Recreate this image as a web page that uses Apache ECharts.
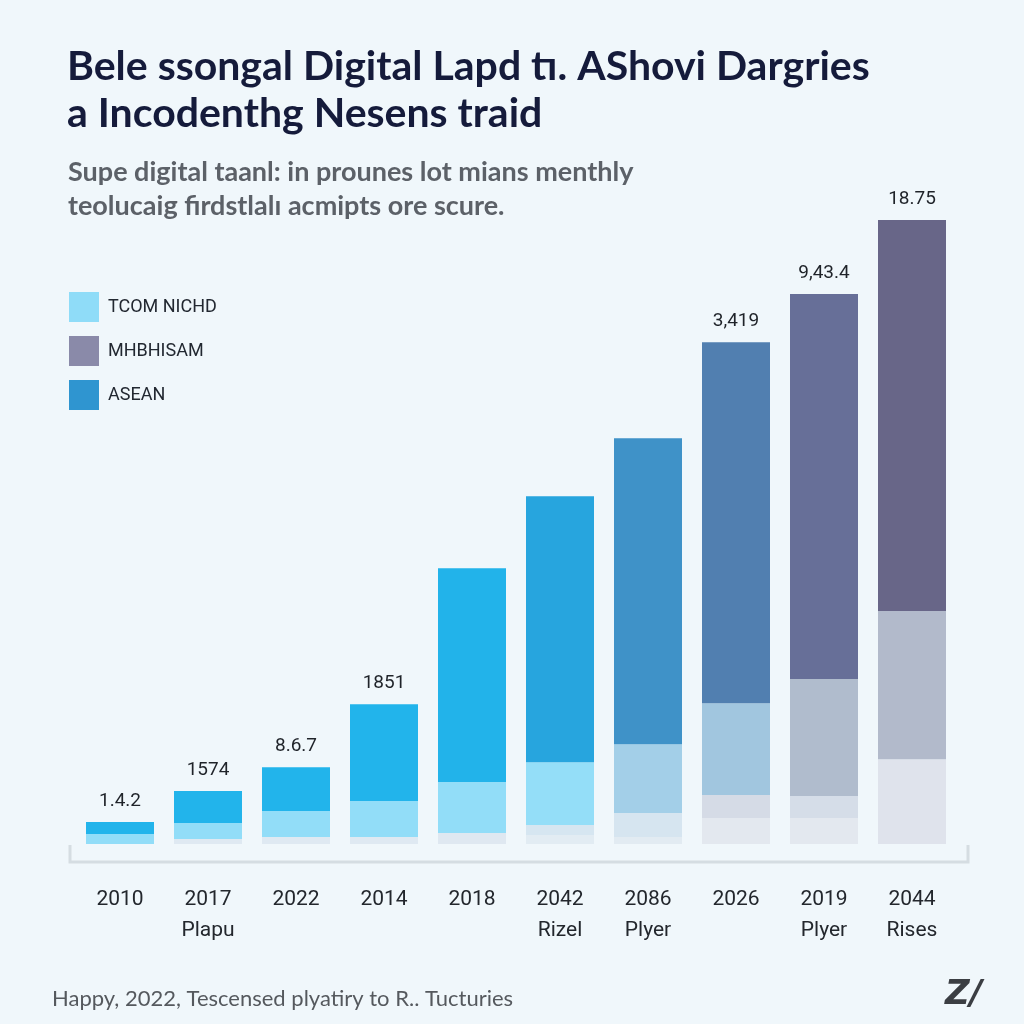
<!DOCTYPE html>
<html>
<head>
<meta charset="utf-8">
<script src="https://cdn.jsdelivr.net/npm/echarts@6/dist/echarts.min.js"></script>
<style>
html,body{margin:0;padding:0;background:#f0f7fb;}
#c{width:1024px;height:1024px;}
</style>
</head>
<body>
<div id="c"></div>
<script>
// ---- data ----
const years = ['2010','2017','2022','2014','2018','2042','2086','2026','2019','2044'];
const subLabels = ['','Plapu','','','','Rizel','Plyer','','Plyer','Rises'];
const topLabels = ['1.4.2','1574','8.6.7','1851','','','','3,419','9,43.4','18.75'];
const baseLow  = [0, 0.15, 0.21, 0.21, 0.33, 0.27, 0.21, 0.78, 0.78, 2.55];
const baseHigh = [0, 0, 0, 0, 0, 0.30, 0.72, 0.69, 0.66, 0];
const tcomNichd = [0.30, 0.48, 0.78, 1.08, 1.53, 1.89, 2.07, 2.76, 3.52, 4.45];
const asean    = [0.36, 0.96, 1.32, 2.91, 6.43, 7.99, 9.19, 10.85, 11.57, 11.75];

// ---- styles ----
const darkColors  = ['#22b4eb','#22b4eb','#22b4eb','#22b4eb','#22b3ea','#27a5de','#3f92c8','#517fb0','#676f98','#686688'];
const midColors   = ['#92ddf8','#92ddf8','#92ddf8','#92ddf8','#92ddf8','#94def8','#a3cfe8','#a1c6df','#b0bccd','#b2bacb'];
const highColors  = ['#dbe8f2','#dbe8f2','#dbe8f2','#dbe8f2','#dbe8f2','#d6e6f1','#d6e5f0','#d5dbe6','#d5dde8','#dfe3ec'];
const lowColors   = ['#e2ecf3','#dfe9f2','#dfe9f2','#dfe9f2','#dfe8f1','#e2ecf3','#e2ebf2','#e3e8ef','#e3e8ef','#dfe3ec'];

function items(vals, cols){ return vals.map((v,i)=>({value:v, itemStyle:{color:cols[i]}})); }

const chart = echarts.init(document.getElementById('c'));
chart.setOption({
  backgroundColor:'#f0f7fb',
  animation:false,
  title:[
    {text:'Bele ssongal Digital Lapd tı. AShovi Dargries\na Incodenthg Nesens traid',
     left:62, top:38,
     textStyle:{fontFamily:'Lato', fontWeight:'bold', fontSize:41, lineHeight:47, color:'#151b3b'}},
    {text:'Supe digital taanl: in prounes lot mians menthly\nteolucaig firdstlalı acmipts ore scure.',
     left:63, top:150,
     textStyle:{fontFamily:'Lato', fontWeight:'bold', fontSize:27, lineHeight:34, color:'#5c6168'}},
    {text:'Happy, 2022, Tescensed plyatiry to R.. Tucturies',
     left:47, top:983,
     textStyle:{fontFamily:'Lato', fontWeight:'normal', fontSize:22, color:'#55595e'}}
  ],
  legend:{
    orient:'vertical', left:64, top:287, icon:'rect',
    itemWidth:30, itemHeight:30, itemGap:14,
    data:['TCOM NICHD','MHBHISAM','ASEAN'],
    textStyle:{fontFamily:'Roboto', fontSize:18, color:'#222831', padding:[0,0,0,4]},
    selectedMode:false
  },
  grid:{left:76, right:68, top:178.4, bottom:162, containLabel:false},
  xAxis:{
    type:'category', data:years,
    axisLine:{show:false}, axisTick:{show:false},
    axisLabel:{
      margin:22, fontFamily:'Roboto', fontSize:21, color:'#23272d', lineHeight:31,
      formatter:(v,i)=> subLabels[i] ? v+'\n'+subLabels[i] : v
    }
  },
  yAxis:{type:'value', min:-0.54, max:20, show:false, splitLine:{show:false}},
  series:[
    {name:'base', type:'bar', stack:'s', barWidth:68, data:items(baseLow, lowColors), itemStyle:{color:'#e0eaf2'}},
    {name:'MHBHISAM', type:'bar', stack:'s', barWidth:68, data:items(baseHigh, highColors), itemStyle:{color:'#8a8aa9'}},
    {name:'TCOM NICHD', type:'bar', stack:'s', barWidth:68, data:items(tcomNichd, midColors), itemStyle:{color:'#8fdcf8'}},
    {name:'ASEAN', type:'bar', stack:'s', barWidth:68, data:items(asean, darkColors), itemStyle:{color:'#2f95d0'},
     label:{show:true, position:'top', distance:11, fontFamily:'Roboto', fontSize:19, color:'#1f2329',
            formatter:p=>topLabels[p.dataIndex]}}
  ],
  graphic:[
    {type:'polyline', shape:{points:[[70,845],[70,862],[968,862],[968,845]]},
     style:{stroke:'#d5dde2', lineWidth:3, fill:null}, silent:true},
    {type:'text', left:945, top:978,
     style:{text:'Z/', font:'italic 900 34px "DejaVu Sans"', fill:'#3b3e43'}}
  ]
});
</script>
</body>
</html>
